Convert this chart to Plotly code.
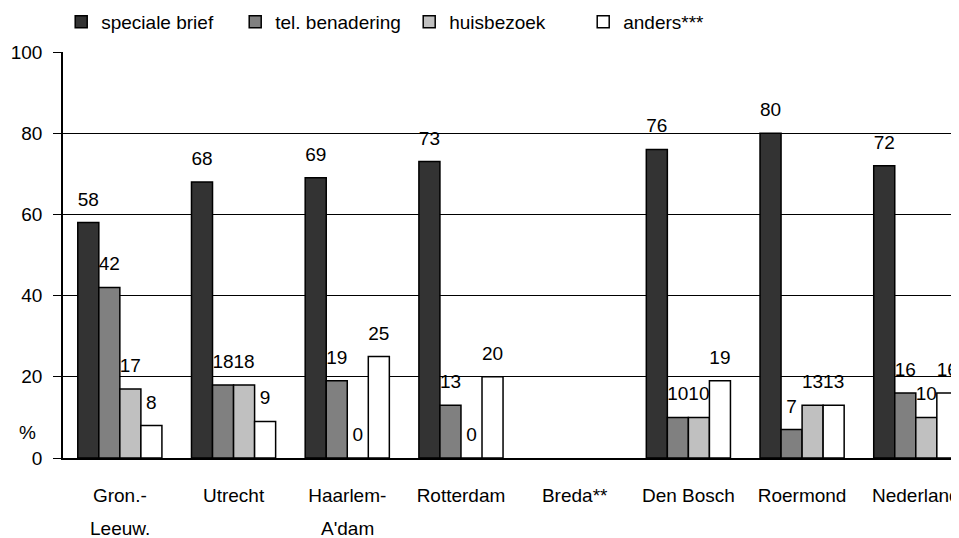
import plotly.graph_objects as go

categories = ["Gron.-Leeuw.", "Utrecht", "Haarlem-A'dam", "Rotterdam", "Breda**",
              "Den Bosch", "Roermond", "Nederland"]
label_line1 = ["Gron.-", "Utrecht", "Haarlem-", "Rotterdam", "Breda**",
               "Den Bosch", "Roermond", "Nederland"]
label_line2 = ["Leeuw.", "", "A'dam", "", "", "", "", ""]
series_names = ["speciale brief", "tel. benadering", "huisbezoek", "anders***"]
speciale_brief = [58, 68, 69, 73, None, 76, 80, 72]
tel_benadering = [42, 18, 19, 13, None, 10, 7, 16]
huisbezoek = [17, 18, 0, 0, None, 10, 13, 10]
anders = [8, 9, 25, 20, None, 19, 13, 16]
y_ticks = [0, 20, 40, 60, 80, 100]

series_values = [speciale_brief, tel_benadering, huisbezoek, anders]
colors = ["#333333", "#808080", "#c0c0c0", "#ffffff"]
FONT = "Liberation Sans, Arial, sans-serif"

fig = go.Figure()
for name, vals, col in zip(series_names, series_values, colors):
    fig.add_trace(go.Bar(
        x=categories, y=vals, name=name,
        marker=dict(color=col, line=dict(color="black", width=1.5)),
        hoverinfo="skip",
    ))
for name, vals in zip(series_names, series_values):
    fig.add_trace(go.Scatter(
        x=categories, y=vals, mode="markers+text",
        text=[None if v is None else str(v) for v in vals],
        textposition="top center",
        textfont=dict(family=FONT, size=19, color="black"),
        marker=dict(size=18, opacity=0),
        showlegend=False, hoverinfo="skip", cliponaxis=False,
    ))

for cat, txt in zip(categories, label_line2):
    if txt:
        fig.add_annotation(text=txt, xref="x", yref="paper", x=cat, y=0, yshift=-70,
                           showarrow=False, xanchor="center", yanchor="middle",
                           font=dict(family=FONT, size=19, color="black"))

fig.add_annotation(text="%", xref="paper", yref="y", x=-0.0396, y=6.4,
                   showarrow=False, font=dict(family=FONT, size=19, color="black"),
                   xanchor="center", yanchor="middle")

fig.update_layout(
    width=951, height=530,
    margin=dict(l=55, r=0, t=44, b=80, autoexpand=False),
    paper_bgcolor="white", plot_bgcolor="white",
    barmode="group", bargap=0.26, bargroupgap=0,
    scattermode="group", scattergap=0.26,
    font=dict(family=FONT, size=19, color="black"),
    showlegend=True,
    legend=dict(orientation="h", x=-0.002, xanchor="left", y=1.074, yanchor="middle",
                font=dict(family=FONT, size=19, color="black"),
                entrywidth=129, entrywidthmode="pixels",
                traceorder="normal", itemclick=False),
    xaxis=dict(type="category", range=[-0.5, 7.38], tickvals=categories,
               ticktext=label_line1, showline=True, linecolor="black",
               linewidth=1.5, ticks="", showgrid=False, ticklabelstandoff=19,
               automargin=False,
               tickfont=dict(family=FONT, size=19, color="black")),
    yaxis=dict(range=[0, 100], tickvals=y_ticks, showline=True, linecolor="black",
               linewidth=1.5, ticks="outside", ticklen=8, tickcolor="black",
               showgrid=True, gridcolor="black", gridwidth=1, zeroline=False,
               ticklabelstandoff=7, automargin=False,
               tickfont=dict(family=FONT, size=19, color="black")),
)

fig.write_html("out.html")
